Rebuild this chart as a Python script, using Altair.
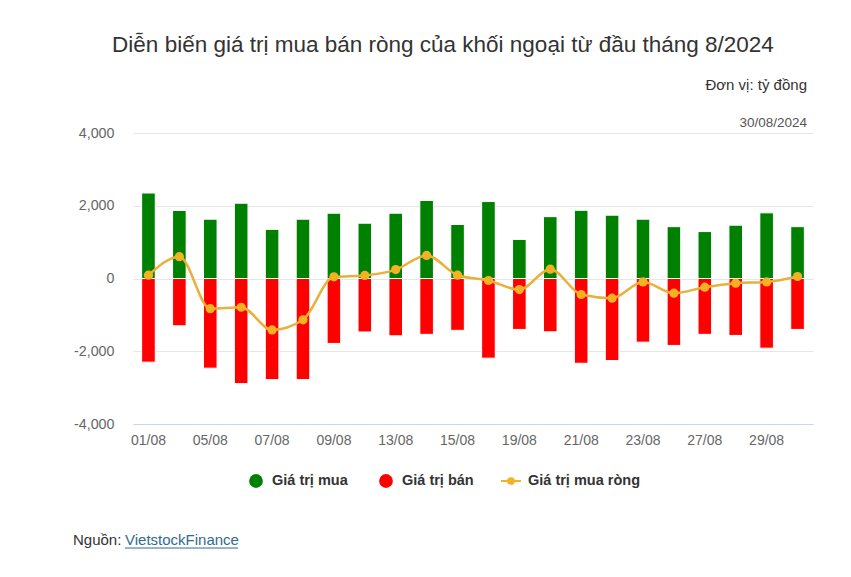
import altair as alt
import pandas as pd

dates = ["01/08", "02/08", "05/08", "06/08", "07/08", "08/08", "09/08", "12/08",
         "13/08", "14/08", "15/08", "16/08", "19/08", "20/08", "21/08", "22/08",
         "23/08", "26/08", "27/08", "28/08", "29/08", "30/08"]
buy = [2350, 1870, 1630, 2070, 1350, 1630, 1795, 1520, 1795, 2145, 1485,
       2115, 1075, 1700, 1875, 1740, 1630, 1425, 1290, 1465, 1805, 1425]
sell = [-2300, -1300, -2465, -2890, -2780, -2780, -1785, -1470, -1575, -1535, -1425,
        -2190, -1400, -1465, -2330, -2255, -1750, -1840, -1535, -1565, -1915, -1400]
net = [90, 600, -830, -790, -1415, -1135, 45, 85, 245, 635, 90,
       -55, -305, 255, -440, -540, -95, -405, -240, -130, -95, 55]
shown_labels = dates[::2]
y_ticks = [-4000, -2000, 0, 2000, 4000]

title_text = "Diễn biến giá trị mua bán ròng của khối ngoại từ đầu tháng 8/2024"
unit_text = "Đơn vị: tỷ đồng"
date_text = "30/08/2024"
legend_names = ["Giá trị mua", "Giá trị bán", "Giá trị mua ròng"]
source_label = "Nguồn:"
source_link = "VietstockFinance"
colors = ["#008000", "#ff0000", "#f4b223"]

FONT = "Liberation Sans"
df = pd.DataFrame({"date": dates, "buy": buy, "sell": sell, "net": net, "zero": 0})

x_enc = alt.X("date:N", sort=dates, title=None,
              scale=alt.Scale(paddingInner=0.56, paddingOuter=0.28),
              axis=alt.Axis(values=shown_labels, labelAngle=0, labelColor="#666666",
                            labelFontSize=14, labelFont=FONT, ticks=False,
                            domainColor="#ccd6eb", labelPadding=9, grid=False))
y_scale = alt.Scale(domain=[-4000, 4000], nice=False)
y_axis = alt.Axis(values=y_ticks, title=None, labelColor="#666666", labelFontSize=14.3,
                  labelFont=FONT, domain=False, ticks=False, labelPadding=19,
                  gridColor="#e6e6e6",
                  labelExpr="replace(format(datum.value, ','), '\u2212', '-')")

base = alt.Chart(df)
buy_bars = base.mark_bar(color=colors[0], stroke="white", strokeWidth=1).encode(
    x=x_enc, y=alt.Y("buy:Q", scale=y_scale, axis=y_axis), y2="zero:Q")
sell_bars = base.mark_bar(color=colors[1], stroke="white", strokeWidth=1).encode(
    x=x_enc, y=alt.Y("sell:Q", scale=y_scale), y2="zero:Q")
net_line = base.mark_line(color="#ebb03a", strokeWidth=2.5, interpolate="monotone").encode(
    x=x_enc, y=alt.Y("net:Q", scale=y_scale))
net_pts = base.mark_point(filled=True, color=colors[2], size=85, opacity=1).encode(
    x=x_enc, y=alt.Y("net:Q", scale=y_scale))

one = alt.Data(values=[{}])

def txt(text, x, y, size=13, color="#333333", align="center", bold=False, baseline="middle"):
    return alt.Chart(one).mark_text(
        text=text, fontSize=size, color=color, align=align, baseline=baseline,
        font=FONT, fontWeight="bold" if bold else "normal"
    ).encode(x=alt.value(x), y=alt.value(y))

title = txt(title_text, 310, -81, size=22.5, color="#333333", baseline="alphabetic")
unit = txt(unit_text, 674, -48, size=15, color="#333333", align="right")
date_lbl = txt(date_text, 674, -10, size=13.5, color="#555555", align="right")

LY = 348
leg_g = alt.Chart(one).mark_point(filled=True, color=colors[0], size=190, opacity=1).encode(
    x=alt.value(123), y=alt.value(LY))
leg_r = alt.Chart(one).mark_point(filled=True, color=colors[1], size=190, opacity=1).encode(
    x=alt.value(253), y=alt.value(LY))
leg_line = alt.Chart(one).mark_rule(color=colors[2], strokeWidth=2).encode(
    x=alt.value(368), x2=alt.value(388), y=alt.value(LY))
leg_o = alt.Chart(one).mark_point(filled=True, color=colors[2], size=60, opacity=1).encode(
    x=alt.value(378), y=alt.value(LY))
leg_t1 = txt(legend_names[0], 139, LY, size=14.5, bold=True, align="left")
leg_t2 = txt(legend_names[1], 269, LY, size=14.5, bold=True, align="left")
leg_t3 = txt(legend_names[2], 395, LY, size=14.5, bold=True, align="left")

src1 = txt(source_label, -60, 407, size=15, color="#333333", align="left")
src2 = txt(source_link, -8, 407, size=15, color="#336a90", align="left")
src_ul = alt.Chart(one).mark_rule(color="#336a90", strokeWidth=1).encode(
    x=alt.value(-8), x2=alt.value(105), y=alt.value(415))

chart = alt.layer(
    buy_bars, sell_bars, net_line, net_pts,
    title, unit, date_lbl,
    leg_g, leg_r, leg_line, leg_o, leg_t1, leg_t2, leg_t3,
    src1, src2, src_ul
).properties(
    width=680, height=291,
    autosize=alt.AutoSizeParams(type="none"),
    padding={"left": 133, "top": 133, "right": 38, "bottom": 153},
    background="white"
).configure_view(stroke=None)

chart.save("out.html", embed_options={"renderer": "svg", "actions": False})
